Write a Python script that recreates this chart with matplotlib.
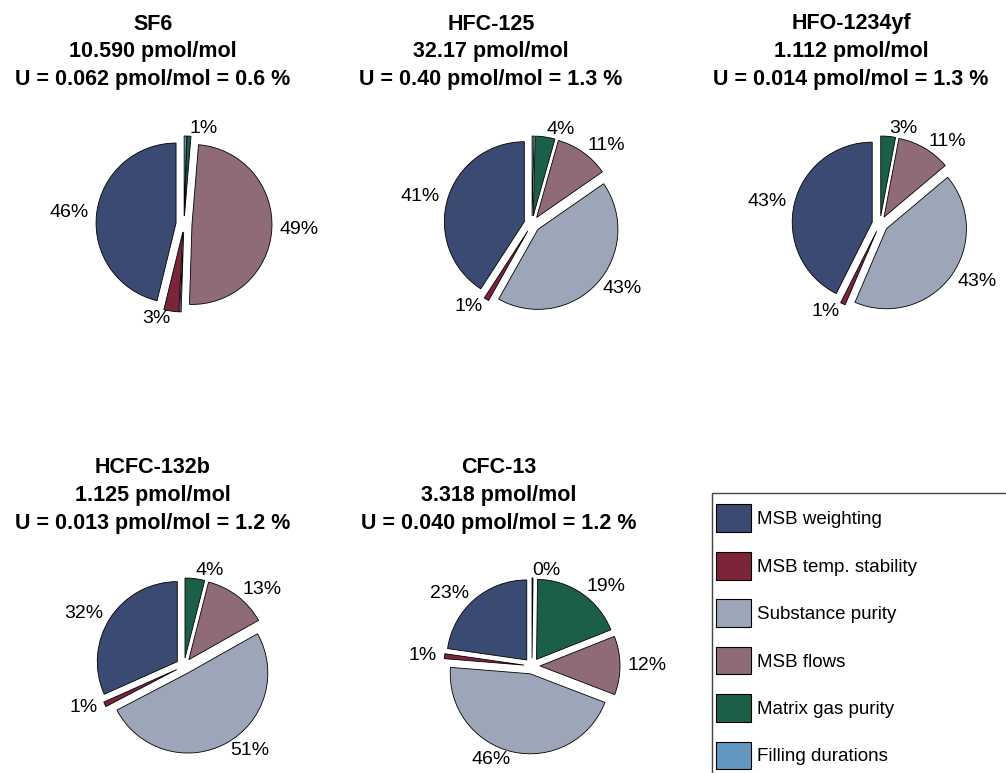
import matplotlib
matplotlib.use('Agg')
import matplotlib.pyplot as plt
from matplotlib.patches import Patch, Rectangle

plt.rcParams['font.family'] = ['Liberation Sans', 'DejaVu Sans']

# uncertainty budget, contributions in %
sources = ['MSB weighting', 'MSB temp. stability', 'Substance purity',
           'MSB flows', 'Matrix gas purity', 'Filling durations']
colors = ['#3b4a72', '#7c2439', '#9da5b8', '#8f6b78', '#1c5f48', '#6496c2']

compounds = ['SF6', 'HFC-125', 'HFO-1234yf', 'HCFC-132b', 'CFC-13']
amounts = ['10.590 pmol/mol', '32.17 pmol/mol', '1.112 pmol/mol',
           '1.125 pmol/mol', '3.318 pmol/mol']
uncerts = ['U = 0.062 pmol/mol = 0.6 %', 'U = 0.40 pmol/mol = 1.3 %',
           'U = 0.014 pmol/mol = 1.3 %', 'U = 0.013 pmol/mol = 1.2 %',
           'U = 0.040 pmol/mol = 1.2 %']

sf6 = [46, 3, 0.3, 49, 0.8, 0.5]
hfc125 = [41, 1, 43, 11, 4, 0.4]
hfo1234yf = [43, 1, 43, 11, 3, 0]
hcfc132b = [32, 1, 51, 13, 4, 0]
cfc13 = [23, 1, 46, 12, 19, 0.2]
shares = [sf6, hfc125, hfo1234yf, hcfc132b, cfc13]

sf6_lbl = ['46%', '3%', '', '49%', '1%', '']
hfc125_lbl = ['41%', '1%', '43%', '11%', '4%', '']
hfo1234yf_lbl = ['43%', '1%', '43%', '11%', '3%', '']
hcfc132b_lbl = ['32%', '1%', '51%', '13%', '4%', '']
cfc13_lbl = ['23%', '1%', '46%', '12%', '19%', '0%']
pct_labels = [sf6_lbl, hfc125_lbl, hfo1234yf_lbl, hcfc132b_lbl, cfc13_lbl]

W, H = 1006, 773
R = 80  # pie radius in pixels

# pie centres and title positions (pixels)
pie_xy = [(184, 224), (532, 224), (880, 224), (184, 666), (532, 666)]
title_x = [153, 491, 851, 153, 499]
title_y0 = [29.5, 29.5, 29.5, 473.5, 473.5]

fig = plt.figure(figsize=(W / 100, H / 100), dpi=100)

for i in range(len(compounds)):
    cx, cy = pie_xy[i]
    half = 140
    ax = fig.add_axes([(cx - half) / W, 1 - (cy + half) / H, 2 * half / W, 2 * half / H])
    vals = [v for v in shares[i] if v > 0]
    cols = [c for v, c in zip(shares[i], colors) if v > 0]
    labs = [l for v, l in zip(shares[i], pct_labels[i]) if v > 0]
    ax.pie(vals, colors=cols, labels=labs, startangle=90, counterclock=True,
           explode=[0.1] * len(vals), labeldistance=1.1,
           wedgeprops=dict(edgecolor='black', linewidth=0.6),
           textprops=dict(fontsize=14))
    ax.set_xlim(-half / R, half / R)
    ax.set_ylim(-half / R, half / R)
    ax.axis('off')

    lines = [compounds[i], amounts[i], uncerts[i]]
    for k, line in enumerate(lines):
        fig.text(title_x[i] / W, 1 - (title_y0[i] + 27.5 * k) / H, line,
                 ha='center', va='baseline', fontsize=15.5, fontweight='bold')

# legend box (runs off the figure edge like the original)
fig.patches.append(Rectangle((712 / W, -0.1), 0.5, 1 - 493 / H + 0.1,
                             transform=fig.transFigure, fill=False,
                             edgecolor='#444444', linewidth=1))
handles = [Patch(facecolor=c, edgecolor='black', linewidth=0.8) for c in colors]
fig.legend(handles, sources, loc='upper left',
           bbox_to_anchor=(707 / W, 1 - 495 / H), frameon=False, fontsize=13.5,
           handlelength=1.87, handleheight=1.9, labelspacing=1.05,
           handletextpad=0.3, borderpad=0.5, borderaxespad=0)

fig.savefig('out.png', dpi=100)
